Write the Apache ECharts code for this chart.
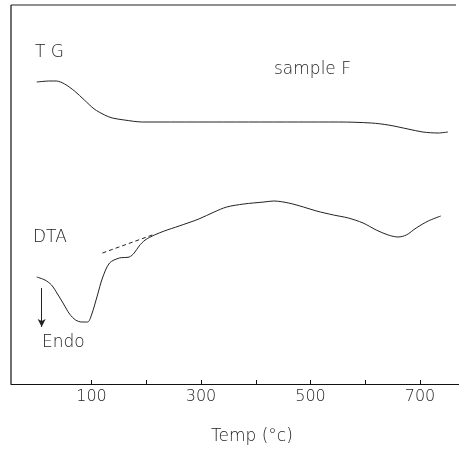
<!DOCTYPE html>
<html><head><meta charset="utf-8">
<script src="https://cdn.jsdelivr.net/npm/echarts@6/dist/echarts.min.js"></script>
<style>html,body{margin:0;padding:0;background:#fff;overflow:hidden}#c{width:459px;height:453px}</style>
</head><body><div id="c"></div>
<script>
// Temperature (°C) and signal (arbitrary units)
var tgTemp  = [0, 24, 36, 51, 69, 87, 105, 124, 138, 160, 193, 296, 387, 478, 551, 611, 642, 678, 705, 733, 751];
var tgVal   = [302, 303, 303, 300, 293, 284, 275, 269, 266, 264, 262, 262, 262, 262, 262, 261, 259, 255, 252, 251, 252];
var dtaTemp = [0, 15, 27, 38, 49, 60, 71, 82, 93, 100, 111, 120, 133, 151, 169, 178, 187, 198, 215, 233, 260, 296, 324, 347, 378, 415, 433, 460, 487, 511, 542, 569, 596, 620, 642, 660, 675, 693, 715, 738];
var dtaVal  = [107, 104, 99, 90, 80, 70, 64, 62, 62, 69, 89, 106, 121, 126, 127, 131, 138, 144, 149, 153, 158, 165, 172, 177, 180, 182, 183, 181, 177, 173, 169, 166, 161, 154, 149, 147, 149, 156, 163, 168];
var baseTemp = [120, 211];
var baseVal  = [131, 149];
var arrowTemp = [9, 9];
var arrowVal  = [96, 57];
var tickValues = [100, 200, 300, 400, 500, 600, 700];
var tickLabels = [100, 300, 500, 700];

function pairs(xs, ys){ return xs.map(function(x,i){return [x, ys[i]];}); }

var FONT = 'DejaVu Sans';
var TXT = '200 17px "DejaVu Sans"';
var chart = echarts.init(document.getElementById('c'));
chart.setOption({
  animation: false,
  backgroundColor: '#fff',
  grid: {left: 11, right: -2, top: 5, bottom: 69, show: false},
  xAxis: {
    type: 'value', min: -47, max: 771.2,
    axisLine: {show: true, onZero: false, lineStyle: {color: '#111', width: 1.2}},
    axisTick: {show: true, inside: true, length: 4, lineStyle: {color: '#111'}, customValues: tickValues},
    axisLabel: {show: true, customValues: tickLabels, color: '#222', fontFamily: FONT, fontWeight: 200, fontSize: 16, margin: 5},
    splitLine: {show: false}, minorSplitLine: {show: false}
  },
  yAxis: {
    type: 'value', min: 0, max: 379,
    axisLine: {show: false},
    axisTick: {show: false}, axisLabel: {show: false}, splitLine: {show: false}
  },
  series: [
    {type: 'line', data: pairs(tgTemp, tgVal), smooth: 0.3, symbol: 'none',
     lineStyle: {color: '#222', width: 1}},
    {type: 'line', data: pairs(dtaTemp, dtaVal), smooth: 0.3, symbol: 'none',
     lineStyle: {color: '#222', width: 1}},
    {type: 'line', data: pairs(baseTemp, baseVal), symbol: 'none',
     lineStyle: {color: '#222', width: 1, type: [4, 3]}},
    {type: 'line', data: [], symbol: 'none',
     markLine: {silent: true, symbol: ['none', 'arrow'], symbolSize: [6, 8], label: {show: false},
       lineStyle: {color: '#222', width: 1, type: 'solid'},
       data: [[{coord: [arrowTemp[0], arrowVal[0]]}, {coord: [arrowTemp[1], arrowVal[1]]}]]}}
  ],
  graphic: [
    {type: 'line', z: 101, shape: {x1: 11, y1: 5, x2: 456, y2: 5}, style: {stroke: '#222', lineWidth: 1.2}},
    {type: 'line', z: 101, shape: {x1: 11, y1: 5, x2: 11, y2: 384}, style: {stroke: '#111', lineWidth: 1.2}},
    {type: 'text', left: 35, top: 44, style: {text: 'T G', font: TXT, fill: '#222'}},
    {type: 'text', left: 274, top: 61, style: {text: 'sample F', font: TXT, fill: '#222'}},
    {type: 'text', left: 33, top: 229, style: {text: 'DTA', font: TXT, fill: '#222'}},
    {type: 'text', left: 42, top: 334, style: {text: 'Endo', font: TXT, fill: '#222'}},
    {type: 'text', left: 211, top: 428, style: {text: 'Temp (°c)', font: TXT, fill: '#222'}}
  ]
});
</script></body></html>
